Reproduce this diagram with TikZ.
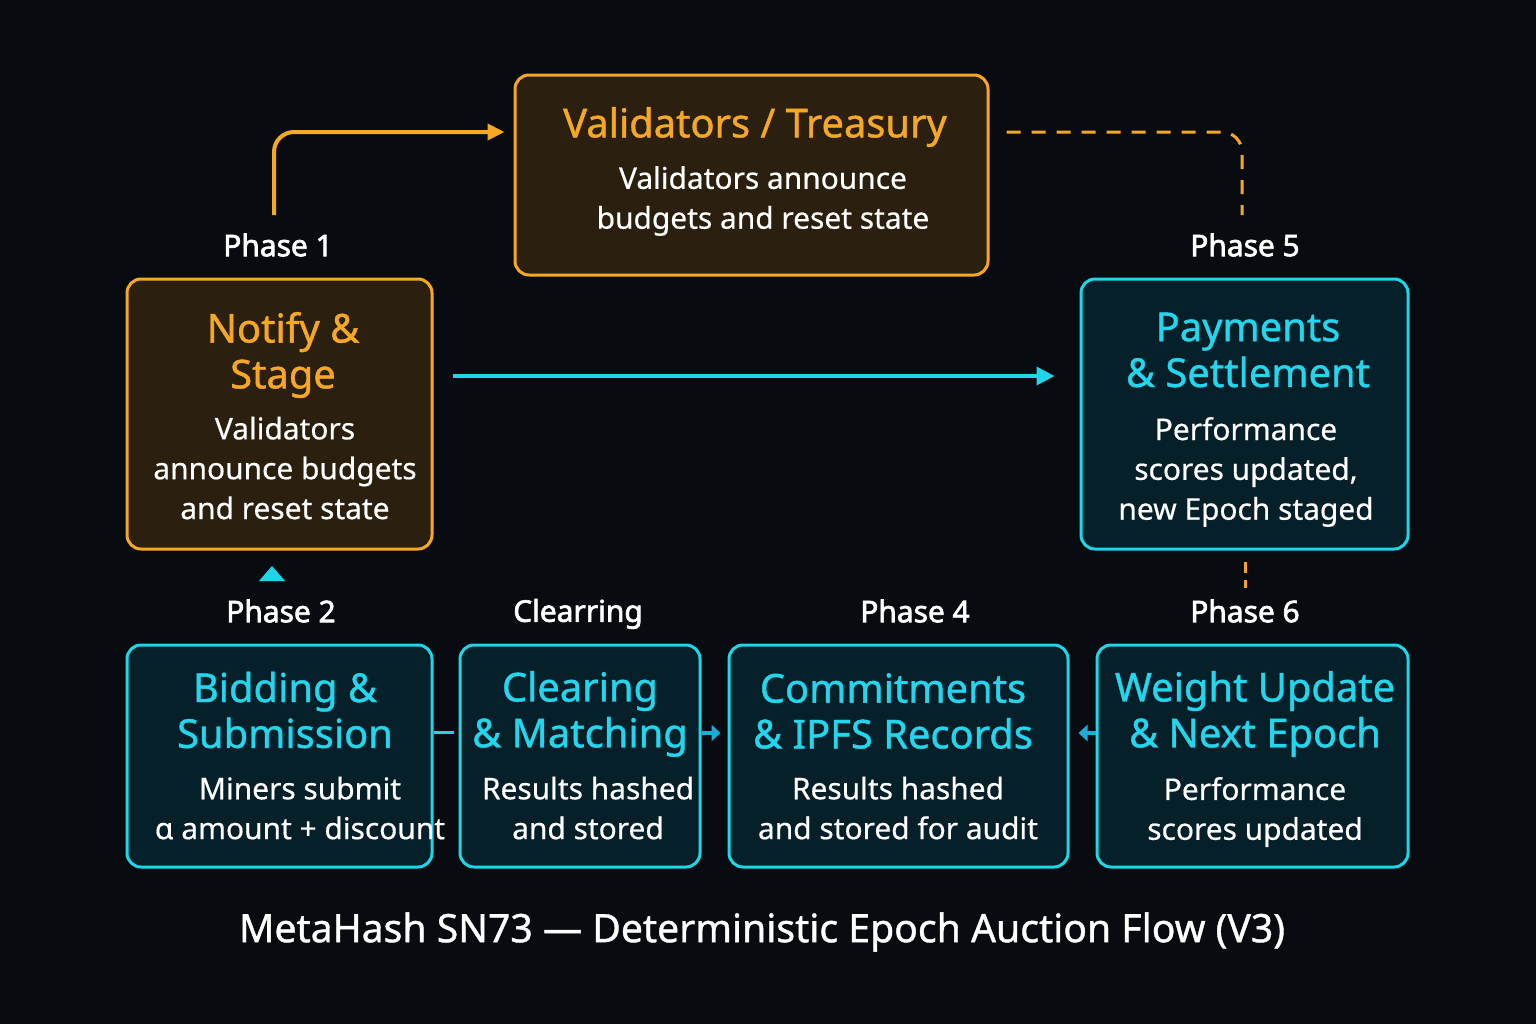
\documentclass[tikz,border=0pt]{standalone}
\usepackage{fontspec}
\setmainfont{Noto Sans}
\newfontfamily\phasefont{Noto Sans}[FakeBold=2.2]
\newfontfamily\ttlfont{Noto Sans}[FakeBold=1.0]
\newfontfamily\bdyfont{Noto Sans}[FakeBold=0.5]
\usetikzlibrary{arrows.meta,calc}
\definecolor{bg}{HTML}{080C10}
\definecolor{org}{HTML}{F7A823}
\definecolor{orgfill}{HTML}{2B200F}
\definecolor{cyn}{HTML}{1DD6EA}
\definecolor{cynfill}{HTML}{06202A}
\definecolor{cyntxt}{HTML}{22D6EE}
\definecolor{scyn}{HTML}{1CACD6}
\tikzset{
  obox/.style={draw=org, fill=orgfill, line width=3bp, rounded corners=14bp},
  cbox/.style={draw=cyn, fill=cynfill, line width=3bp, rounded corners=14bp},
  ttl/.style={font=\fontsize{40}{46}\ttlfont, align=center, inner sep=0pt},
  bdy/.style={text=white, font=\fontsize{30}{40}\bdyfont, align=center, inner sep=0pt},
  phase/.style={text=white, font=\fontsize{30}{34}\phasefont, inner sep=0pt},
  oarr/.style={draw=org, line width=4bp, -{Triangle[length=17bp,width=16bp]}},
  odash/.style={draw=org, line width=3bp, dash pattern=on 14bp off 11bp},
  carr/.style={draw=cyn, line width=3.5bp, -{Triangle[length=18bp,width=18bp]}},
  sarr/.style={draw=scyn, line width=4bp, -{Triangle[length=9bp,width=16bp]}},
}
\begin{document}
\begin{tikzpicture}[x=1bp,y=-1bp]
\fill[bg] (0,0) rectangle (1536,1024);
\useasboundingbox (0,0) rectangle (1536,1024);

% boxes
\node[obox, minimum width=473bp, minimum height=200bp] (vt) at (751.5,175) {};
\node[obox, minimum width=305bp, minimum height=270bp] (ns) at (279.5,414) {};
\node[cbox, minimum width=327bp, minimum height=270bp] (ps) at (1244.5,414) {};
\node[cbox, minimum width=305bp, minimum height=222bp] (bs) at (279.5,756) {};
\node[cbox, minimum width=240bp, minimum height=222bp] (cm) at (580,756) {};
\node[cbox, minimum width=339bp, minimum height=222bp] (ci) at (898.5,756) {};
\node[cbox, minimum width=311bp, minimum height=222bp] (wu) at (1252.5,756) {};

% texts
\node[ttl, text=org] (vtT) at (755,127) {Validators / Treasury};
\node[bdy] (vtB) at (763,201) {Validators announce\\budgets and reset state};

\node[ttl, text=org] (nsT) at (283,355) {Notify \&\\Stage};
\node[bdy] (nsB) at (285,468) {Validators\\announce budgets\\and reset state};

\node[ttl, text=cyntxt] (psT) at (1248,350) {Payments\\\& Settlement};
\node[bdy] (psB) at (1246,472) {Performance\\scores updated,\\new Epoch staged};

\node[ttl, text=cyntxt] (bsT) at (285,710) {Bidding \&\\Submission};
\node[bdy] (bsB) at (300,808) {Miners submit\\α amount + discount};

\node[ttl, text=cyntxt] (cmT) at (580,714) {Clearing\\\& Matching};
\node[bdy] (cmB) at (588,808) {Results hashed\\and stored};

\node[ttl, text=cyntxt] (ciT) at (893,711) {Commitments\\\& IPFS Records};
\node[bdy] (ciB) at (898,808) {Results hashed\\and stored for audit};

\node[ttl, text=cyntxt] (wuT) at (1255,714) {Weight Update\\\& Next Epoch};
\node[bdy] (wuB) at (1255,812) {Performance\\scores updated};

% phase labels
\node[phase] (p1) at (278,245) {Phase 1};
\node[phase] (p5) at (1245,245) {Phase 5};
\node[phase] (p2) at (281,611) {Phase 2};
\node[phase] (p3) at (578,614) {Clearring};
\node[phase] (p4) at (915,611) {Phase 4};
\node[phase] (p6) at (1245,611) {Phase 6};

% main title
\node[text=white, font=\fontsize{39.3}{44}\ttlfont, inner sep=0pt] (title) at (762,932) {MetaHash SN73 — Deterministic Epoch Auction Flow (V3)};

% connectors
\coordinate (a1) at (274,215);
\draw[oarr, rounded corners=20bp] (a1) |- ([xshift=-9bp]vt.west |- 0,132);
\coordinate (d1) at (1242,215);
\draw[odash, rounded corners=20bp] ([xshift=17bp]vt.east |- 0,132) -| (d1);
\draw[carr] ([xshift=19bp]ns.east |- 0,376) -- ([xshift=-25bp]ps.west |- 0,376);
\fill[cyn] (259,581) -- (285,581) -- (272,566) -- cycle;
\draw[odash, dash pattern=on 11bp off 7bp] (1245,562) -- (1245,588);
\draw[draw=cyn, line width=3bp] (bs.east |- 0,732) -- ([xshift=-5bp]cm.west |- 0,732);
\draw[sarr] (cm.east |- 0,733) -- ([xshift=-7bp]ci.west |- 0,733);
\draw[sarr] (wu.west |- 0,733) -- ([xshift=9bp]ci.east |- 0,733);
\end{tikzpicture}
\end{document}
